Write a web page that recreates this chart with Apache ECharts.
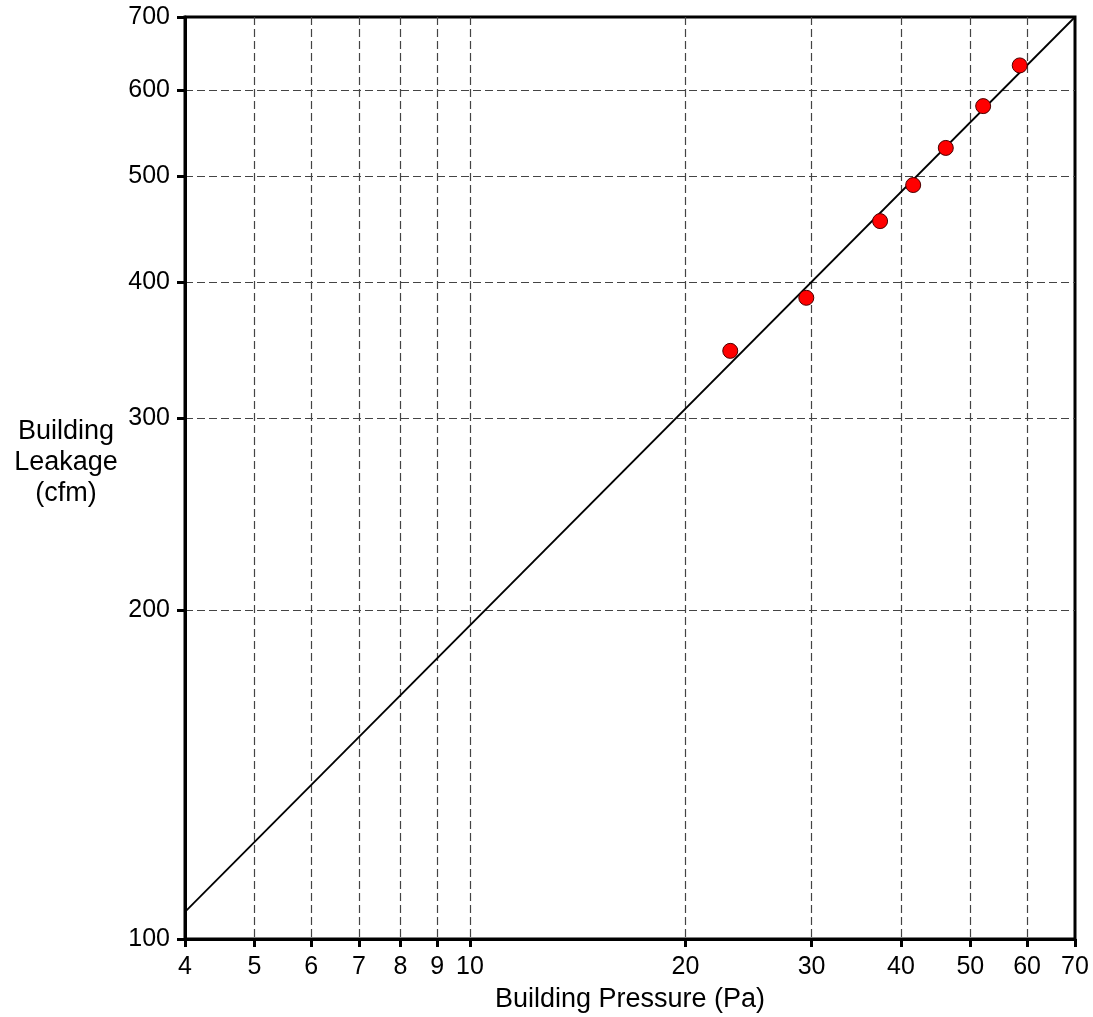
<!DOCTYPE html>
<html>
<head>
<meta charset="utf-8">
<script src="https://cdn.jsdelivr.net/npm/echarts@6/dist/echarts.min.js"></script>
<style>
html,body{margin:0;padding:0;background:#fff;}
#main{width:1093px;height:1017px;}
</style>
</head>
<body>
<div id="main"></div>
<script>
const pressure = [23.1, 29.5, 37.4, 41.6, 46.2, 52.1, 58.6];
const leakage = [346, 387, 455, 491, 531, 580, 632];
const fitPressure = [4, 70];
const fitLeakage = [105.9, 700];
const xTicks = [4, 5, 6, 7, 8, 9, 10, 20, 30, 40, 50, 60, 70];
const yTicks = [100, 200, 300, 400, 500, 600, 700];

const font = 'Liberation Sans, Arial, sans-serif';
const chart = echarts.init(document.getElementById('main'), null, {renderer: 'canvas'});
chart.setOption({
  animation: false,
  backgroundColor: '#fff',
  grid: {left: 185, right: 18, top: 17, bottom: 78, outerBoundsMode: 'none', containLabel: false,
         show: true, borderColor: '#000', borderWidth: 3, backgroundColor: 'transparent'},
  xAxis: {
    type: 'log', logBase: 10, min: 4, max: 70,
    name: 'Building Pressure (Pa)', nameLocation: 'middle', nameGap: 47,
    nameTextStyle: {fontFamily: font, fontSize: 27, color: '#000'},
    axisLine: {show: true, onZero: false, lineStyle: {color: '#000', width: 3}},
    axisTick: {show: true, inside: false, length: 8, lineStyle: {color: '#000', width: 3}, customValues: xTicks},
    axisLabel: {fontFamily: font, fontSize: 25, color: '#000', margin: 16, customValues: xTicks, showMinLabel: true, showMaxLabel: true},
    splitLine: {show: true, showMinLine: false, showMaxLine: false, lineStyle: {color: '#444', type: [8, 4], width: 1.2}},
    minorTick: {show: false}, minorSplitLine: {show: false}
  },
  yAxis: {
    type: 'log', logBase: 10, min: 100, max: 700,
    name: 'Building\nLeakage\n(cfm)\n ', nameLocation: 'middle', nameGap: 119, nameRotate: 0,
    nameTextStyle: {fontFamily: font, fontSize: 27, color: '#000', align: 'center', lineHeight: 31},
    axisLine: {show: true, onZero: false, lineStyle: {color: '#000', width: 3}},
    axisTick: {show: true, inside: false, length: 8, lineStyle: {color: '#000', width: 3}, customValues: yTicks},
    axisLabel: {fontFamily: font, fontSize: 25, color: '#000', margin: 15, customValues: yTicks, showMinLabel: true, showMaxLabel: true},
    splitLine: {show: true, showMinLine: false, showMaxLine: false, lineStyle: {color: '#444', type: [8, 4], width: 1.2}},
    minorTick: {show: false}, minorSplitLine: {show: false}
  },
  series: [
    {
      type: 'line',
      data: fitPressure.map((p, i) => [p, fitLeakage[i]]),
      showSymbol: false, symbol: 'none',
      lineStyle: {color: '#000', width: 1.8},
      z: 3
    },
    {
      type: 'scatter',
      data: pressure.map((p, i) => [p, leakage[i]]),
      symbol: 'circle', symbolSize: 15,
      itemStyle: {color: '#ff0000', borderColor: '#4a0000', borderWidth: 1, opacity: 1},
      z: 4
    }
  ]
});
</script>
</body>
</html>
